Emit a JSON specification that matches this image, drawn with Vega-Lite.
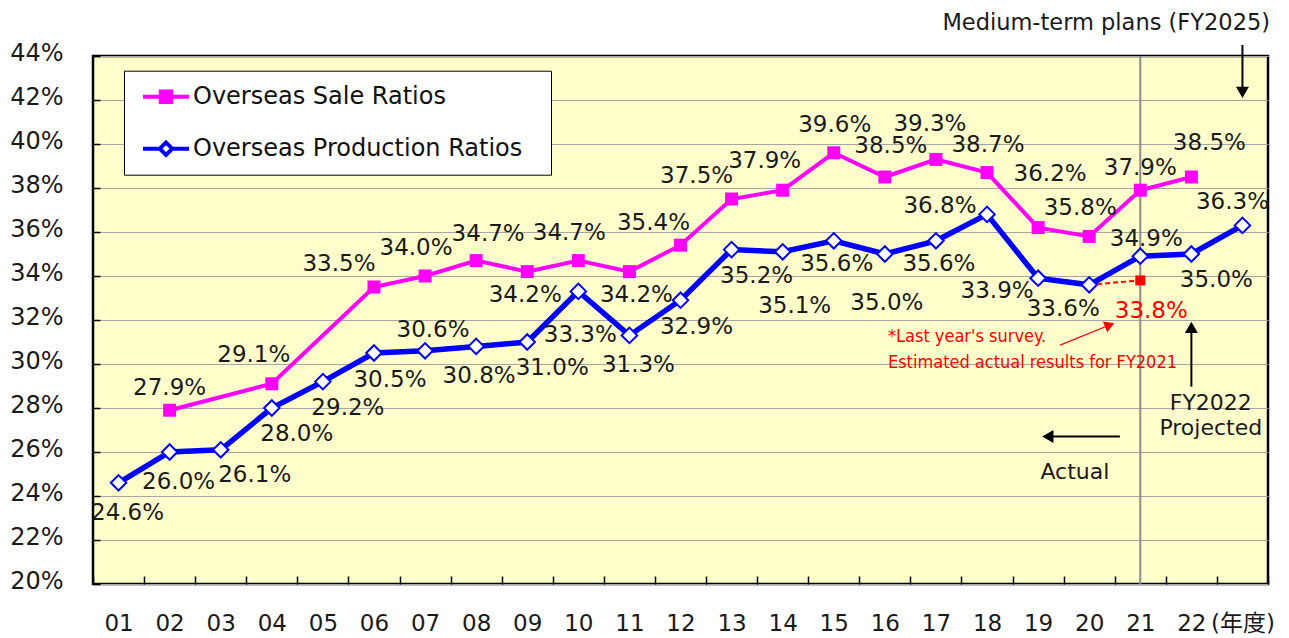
{
"$schema":"https://vega.github.io/schema/vega-lite/v6.json",
"width":1175,"height":528,
"autosize":{"type":"none"},
"padding":{"left":93,"top":56,"right":21,"bottom":54},
"background":"#FFFFFF",
"config":{
 "view":{"fill":"#FFFFCC","stroke":"#000000","strokeWidth":2.5},
 "text":{"font":"DejaVu Sans","fontSize":23,"color":"#1a1a1a","baseline":"middle"},
 "legend":{"title":null,"orient":"none","legendX":31,"legendY":14.7,"direction":"vertical","fillColor":"#FFFFFF","strokeColor":"#000000","padding":11,"symbolSize":676,"symbolStrokeWidth":4,"symbolOpacity":1,"symbolOffset":16,"labelOffset":12,"labelFontSize":24,"labelFont":"DejaVu Sans","labelColor":"#111111","labelLimit":600,"rowPadding":23}
},
"datasets":{
 "ratios":[
  {"yr":"02","series":"Overseas Sale Ratios","v":0.279},
  {"yr":"04","series":"Overseas Sale Ratios","v":0.291},
  {"yr":"06","series":"Overseas Sale Ratios","v":0.335},
  {"yr":"07","series":"Overseas Sale Ratios","v":0.340},
  {"yr":"08","series":"Overseas Sale Ratios","v":0.347},
  {"yr":"09","series":"Overseas Sale Ratios","v":0.342},
  {"yr":"10","series":"Overseas Sale Ratios","v":0.347},
  {"yr":"11","series":"Overseas Sale Ratios","v":0.342},
  {"yr":"12","series":"Overseas Sale Ratios","v":0.354},
  {"yr":"13","series":"Overseas Sale Ratios","v":0.375},
  {"yr":"14","series":"Overseas Sale Ratios","v":0.379},
  {"yr":"15","series":"Overseas Sale Ratios","v":0.396},
  {"yr":"16","series":"Overseas Sale Ratios","v":0.385},
  {"yr":"17","series":"Overseas Sale Ratios","v":0.393},
  {"yr":"18","series":"Overseas Sale Ratios","v":0.387},
  {"yr":"19","series":"Overseas Sale Ratios","v":0.362},
  {"yr":"20","series":"Overseas Sale Ratios","v":0.358},
  {"yr":"21","series":"Overseas Sale Ratios","v":0.379},
  {"yr":"22","series":"Overseas Sale Ratios","v":0.385},
  {"yr":"01","series":"Overseas Production Ratios","v":0.246},
  {"yr":"02","series":"Overseas Production Ratios","v":0.260},
  {"yr":"03","series":"Overseas Production Ratios","v":0.261},
  {"yr":"04","series":"Overseas Production Ratios","v":0.280},
  {"yr":"05","series":"Overseas Production Ratios","v":0.292},
  {"yr":"06","series":"Overseas Production Ratios","v":0.305},
  {"yr":"07","series":"Overseas Production Ratios","v":0.306},
  {"yr":"08","series":"Overseas Production Ratios","v":0.308},
  {"yr":"09","series":"Overseas Production Ratios","v":0.310},
  {"yr":"10","series":"Overseas Production Ratios","v":0.333},
  {"yr":"11","series":"Overseas Production Ratios","v":0.313},
  {"yr":"12","series":"Overseas Production Ratios","v":0.329},
  {"yr":"13","series":"Overseas Production Ratios","v":0.352},
  {"yr":"14","series":"Overseas Production Ratios","v":0.351},
  {"yr":"15","series":"Overseas Production Ratios","v":0.356},
  {"yr":"16","series":"Overseas Production Ratios","v":0.350},
  {"yr":"17","series":"Overseas Production Ratios","v":0.356},
  {"yr":"18","series":"Overseas Production Ratios","v":0.368},
  {"yr":"19","series":"Overseas Production Ratios","v":0.339},
  {"yr":"20","series":"Overseas Production Ratios","v":0.336},
  {"yr":"21","series":"Overseas Production Ratios","v":0.349},
  {"yr":"22","series":"Overseas Production Ratios","v":0.350},
  {"yr":"25","series":"Overseas Production Ratios","v":0.363}
 ],
 "est":[{"yr":"20","v":0.336},{"yr":"21","v":0.338}],
 "divider":[{"yr":"21"}],
 "arrows":[
  {"id":"plan","x":23,"v":0.445,"x2":23,"v2":0.4235},
  {"id":"proj","x":22,"v":0.2897,"x2":22,"v2":0.3167},
  {"id":"act","x":20.6,"v":0.267,"x2":19.19,"v2":0.267},
  {"id":"red","x":19.43,"v":0.3086,"x2":20.4,"v2":0.3177}
 ],
 "notes":[
  {"id":"plan","x":23.54,"v":0.4552,"text":"Medium-term plans (FY2025)"},
  {"id":"fy1","x":22.38,"v":0.2822,"text":"FY2022"},
  {"id":"fy2","x":22.38,"v":0.2708,"text":"Projected"},
  {"id":"act","x":19.72,"v":0.2511,"text":"Actual"},
  {"id":"red1","x":16.06,"v":0.3121,"text":"*Last year's survey."},
  {"id":"red2","x":16.06,"v":0.3003,"text":"Estimated actual results for FY2021"}
 ]
},
"layer":[
 {
  "encoding":{"x":{"field":"yr","type":"ordinal","bandPosition":0.5,"title":null,
    "scale":{"type":"band","domain":["01","02","03","04","05","06","07","08","09","10","11","12","13","14","15","16","17","18","19","20","21","22","25"],"paddingInner":0,"paddingOuter":0},
    "axis":{"tickBand":"extent","tickSize":-8,"tickColor":"#000000","tickWidth":1.5,"labelFontSize":23,"labelPadding":47,"labelBaseline":"middle","labelAngle":0,"labelOverlap":false,"labelColor":"#1a1a1a","labelFont":"DejaVu Sans, Noto Sans CJK JP","labelExpr":"datum.value == '25' ? '(年度)' : datum.value","grid":false,"domain":false}}},
  "layer":[
   {"data":{"name":"divider"},"mark":{"type":"rule","color":"#8C8C8C","strokeWidth":2},"encoding":{}},
   {"data":{"name":"ratios"},
    "encoding":{"y":{"field":"v","type":"quantitative","title":null,"scale":{"domain":[0.2,0.44],"nice":false,"zero":false},
      "axis":{"values":[0.2,0.22,0.24,0.26,0.28,0.3,0.32,0.34,0.36,0.38,0.4,0.42,0.44],"format":".0%","grid":true,"gridColor":"#A6A6A6","gridWidth":1,"tickSize":-7,"tickColor":"#000000","tickWidth":1.5,"labelFontSize":24,"labelPadding":37,"labelOffset":-3,"labelOverlap":false,"labelFlush":false,"domain":false,"labelColor":"#1a1a1a","labelFont":"DejaVu Sans"}}},
    "layer":[
     {"transform":[{"filter":{"field":"series","equal":"Overseas Sale Ratios"}}],"mark":{"type":"line","strokeWidth":4,"color":"#FF00FF"},"encoding":{}},
     {"transform":[{"filter":{"field":"series","equal":"Overseas Production Ratios"}}],"mark":{"type":"line","strokeWidth":5.5,"color":"#0000FF"},"encoding":{}},
     {"mark":{"type":"point","filled":true,"opacity":0},
      "encoding":{
       "shape":{"field":"series","type":"nominal","scale":{"domain":["Overseas Sale Ratios","Overseas Production Ratios"],"range":["M-1.77,0H1.77M-0.4,-0.4H0.4V0.4H-0.4Z","M-1.77,0H-0.48M0.48,0H1.77M-0.48,0L0,-0.48L0.48,0L0,0.48Z"]},"legend":{"labelExpr":"datum.label + '\u2800'"}},
       "fill":{"field":"series","type":"nominal","scale":{"domain":["Overseas Sale Ratios","Overseas Production Ratios"],"range":["#FF00FF","#FFFFFF"]},"legend":{"labelExpr":"datum.label + '\u2800'"}},
       "stroke":{"field":"series","type":"nominal","scale":{"domain":["Overseas Sale Ratios","Overseas Production Ratios"],"range":["#FF00FF","#0000FF"]},"legend":{"labelExpr":"datum.label + '\u2800'"}}
      }}
    ]},
   {"data":{"name":"est"},"mark":{"type":"line","color":"#FF0000","strokeWidth":2,"strokeDash":[5,3]},
    "encoding":{"y":{"field":"v","type":"quantitative","title":null,"scale":{"domain":[0.2,0.44],"nice":false,"zero":false}}}},
   {"data":{"name":"ratios"},
    "encoding":{"y":{"field":"v","type":"quantitative","title":null,"scale":{"domain":[0.2,0.44],"nice":false,"zero":false}}},
    "layer":[
     {"transform":[{"filter":{"field":"series","equal":"Overseas Sale Ratios"}}],"mark":{"type":"point","shape":"square","filled":true,"size":169,"color":"#FF00FF","opacity":1}},
     {"transform":[{"filter":{"field":"series","equal":"Overseas Production Ratios"}}],"mark":{"type":"point","shape":"diamond","filled":true,"fill":"#FFFFFF","stroke":"#0000FF","strokeWidth":2,"size":240,"opacity":1}},
     {"transform":[{"filter":{"field":"series","equal":"Overseas Sale Ratios"}}],
      "encoding":{"text":{"field":"v","type":"quantitative","format":".1%"}},
      "layer":[
       {"transform":[{"filter":{"field":"yr","oneOf":["06","13"]}}],"mark":{"type":"text","dx":-35,"dy":-23}},
       {"transform":[{"filter":{"field":"yr","oneOf":["15","18"]}}],"mark":{"type":"text","dx":1,"dy":-28}},
       {"transform":[{"filter":{"field":"yr","oneOf":["07","10","20"]}}],"mark":{"type":"text","dx":-9,"dy":-28}},
       {"transform":[{"filter":{"field":"yr","oneOf":["04","14"]}}],"mark":{"type":"text","dx":-18,"dy":-29}},
       {"transform":[{"filter":{"field":"yr","oneOf":["02","21"]}}],"mark":{"type":"text","dx":0,"dy":-22}},
       {"transform":[{"filter":{"field":"yr","oneOf":["08"]}}],"mark":{"type":"text","dx":12,"dy":-27}},
       {"transform":[{"filter":{"field":"yr","oneOf":["09"]}}],"mark":{"type":"text","dx":-2,"dy":23}},
       {"transform":[{"filter":{"field":"yr","oneOf":["11"]}}],"mark":{"type":"text","dx":7,"dy":23}},
       {"transform":[{"filter":{"field":"yr","oneOf":["12"]}}],"mark":{"type":"text","dx":-27,"dy":-22}},
       {"transform":[{"filter":{"field":"yr","oneOf":["16"]}}],"mark":{"type":"text","dx":6,"dy":-31}},
       {"transform":[{"filter":{"field":"yr","oneOf":["17"]}}],"mark":{"type":"text","dx":-6,"dy":-35}},
       {"transform":[{"filter":{"field":"yr","oneOf":["19"]}}],"mark":{"type":"text","dx":12,"dy":-54}},
       {"transform":[{"filter":{"field":"yr","oneOf":["22"]}}],"mark":{"type":"text","dx":18,"dy":-34}}
      ]},
     {"transform":[{"filter":{"field":"series","equal":"Overseas Production Ratios"}}],
      "encoding":{"text":{"field":"v","type":"quantitative","format":".1%"}},
      "layer":[
       {"transform":[{"filter":{"field":"yr","oneOf":["01","02","11"]}}],"mark":{"type":"text","dx":9,"dy":30}},
       {"transform":[{"filter":{"field":"yr","oneOf":["04","05","09","13","22"]}}],"mark":{"type":"text","dx":25,"dy":26}},
       {"transform":[{"filter":{"field":"yr","oneOf":["06","12"]}}],"mark":{"type":"text","dx":16,"dy":27}},
       {"transform":[{"filter":{"field":"yr","oneOf":["15","17"]}}],"mark":{"type":"text","dx":3,"dy":23}},
       {"transform":[{"filter":{"field":"yr","oneOf":["08"]}}],"mark":{"type":"text","dx":3,"dy":30}},
       {"transform":[{"filter":{"field":"yr","oneOf":["03"]}}],"mark":{"type":"text","dx":34,"dy":25}},
       {"transform":[{"filter":{"field":"yr","oneOf":["07"]}}],"mark":{"type":"text","dx":8,"dy":-21}},
       {"transform":[{"filter":{"field":"yr","oneOf":["10"]}}],"mark":{"type":"text","dx":2,"dy":44}},
       {"transform":[{"filter":{"field":"yr","oneOf":["14"]}}],"mark":{"type":"text","dx":12,"dy":54}},
       {"transform":[{"filter":{"field":"yr","oneOf":["16"]}}],"mark":{"type":"text","dx":2,"dy":49}},
       {"transform":[{"filter":{"field":"yr","oneOf":["18"]}}],"mark":{"type":"text","dx":-47,"dy":-8}},
       {"transform":[{"filter":{"field":"yr","oneOf":["19"]}}],"mark":{"type":"text","dx":-41,"dy":13}},
       {"transform":[{"filter":{"field":"yr","oneOf":["20"]}}],"mark":{"type":"text","dx":-26,"dy":24}},
       {"transform":[{"filter":{"field":"yr","oneOf":["21"]}}],"mark":{"type":"text","dx":6,"dy":-17}},
       {"transform":[{"filter":{"field":"yr","oneOf":["25"]}}],"mark":{"type":"text","dx":-10,"dy":-23}}
      ]}
    ]},
   {"data":{"name":"est"},
    "transform":[{"filter":{"field":"yr","equal":"21"}}],
    "encoding":{"y":{"field":"v","type":"quantitative","title":null,"scale":{"domain":[0.2,0.44],"nice":false,"zero":false}}},
    "layer":[
     {"mark":{"type":"point","shape":"square","filled":true,"size":100,"color":"#FF0000","opacity":1}},
     {"mark":{"type":"text","dx":11,"dy":31,"color":"#FF0000"},"encoding":{"text":{"field":"v","type":"quantitative","format":".1%"}}}
    ]}
  ]
 },
 {
  "encoding":{
   "x":{"field":"x","type":"quantitative","title":null,"axis":null,"scale":{"domain":[0.5,23.5],"nice":false,"zero":false}},
   "y":{"field":"v","type":"quantitative","title":null,"scale":{"domain":[0.2,0.44],"nice":false,"zero":false}}
  },
  "layer":[
   {"data":{"name":"arrows"},"transform":[{"filter":"datum.id != 'red'"}],"mark":{"type":"rule","color":"#000000","strokeWidth":2},
    "encoding":{"x2":{"field":"x2"},"y2":{"field":"v2"}}},
   {"data":{"name":"arrows"},"transform":[{"filter":"datum.id == 'red'"}],"mark":{"type":"rule","color":"#FF0000","strokeWidth":1.2},
    "encoding":{"x2":{"field":"x2"},"y2":{"field":"v2"}}},
   {"data":{"name":"arrows"},"transform":[{"filter":"datum.id == 'plan'"}],"mark":{"type":"point","shape":"triangle-down","filled":true,"color":"#000000","size":169,"opacity":1},
    "encoding":{"x":{"field":"x2","type":"quantitative","axis":null,"scale":{"domain":[0.5,23.5],"nice":false,"zero":false}},"y":{"field":"v2","type":"quantitative","title":null,"scale":{"domain":[0.2,0.44],"nice":false,"zero":false}}}},
   {"data":{"name":"arrows"},"transform":[{"filter":"datum.id == 'proj'"}],"mark":{"type":"point","shape":"triangle-up","filled":true,"color":"#000000","size":169,"opacity":1},
    "encoding":{"x":{"field":"x2","type":"quantitative","axis":null,"scale":{"domain":[0.5,23.5],"nice":false,"zero":false}},"y":{"field":"v2","type":"quantitative","title":null,"scale":{"domain":[0.2,0.44],"nice":false,"zero":false}}}},
   {"data":{"name":"arrows"},"transform":[{"filter":"datum.id == 'act'"}],"mark":{"type":"point","shape":"triangle-left","filled":true,"color":"#000000","size":169,"opacity":1},
    "encoding":{"x":{"field":"x2","type":"quantitative","axis":null,"scale":{"domain":[0.5,23.5],"nice":false,"zero":false}},"y":{"field":"v2","type":"quantitative","title":null,"scale":{"domain":[0.2,0.44],"nice":false,"zero":false}}}},
   {"data":{"name":"arrows"},"transform":[{"filter":"datum.id == 'red'"}],"mark":{"type":"point","shape":"triangle-right","angle":-22,"filled":true,"color":"#FF0000","size":130,"opacity":1},
    "encoding":{"x":{"field":"x2","type":"quantitative","axis":null,"scale":{"domain":[0.5,23.5],"nice":false,"zero":false}},"y":{"field":"v2","type":"quantitative","title":null,"scale":{"domain":[0.2,0.44],"nice":false,"zero":false}}}},
   {"data":{"name":"notes"},"transform":[{"filter":"datum.id == 'plan'"}],"mark":{"type":"text","align":"right","fontSize":22.5},
    "encoding":{"text":{"field":"text","type":"nominal"}}},
   {"data":{"name":"notes"},"transform":[{"filter":"datum.id == 'fy1' || datum.id == 'fy2' || datum.id == 'act'"}],"mark":{"type":"text","align":"center","fontSize":22},
    "encoding":{"text":{"field":"text","type":"nominal"}}},
   {"data":{"name":"notes"},"transform":[{"filter":"datum.id == 'red1' || datum.id == 'red2'"}],"mark":{"type":"text","align":"left","fontSize":18,"font":"Liberation Sans Narrow, DejaVu Sans Condensed, Noto Sans","color":"#FF0000"},
    "encoding":{"text":{"field":"text","type":"nominal"}}}
  ]
 }
],
"resolve":{"scale":{"x":"independent"}}
}
